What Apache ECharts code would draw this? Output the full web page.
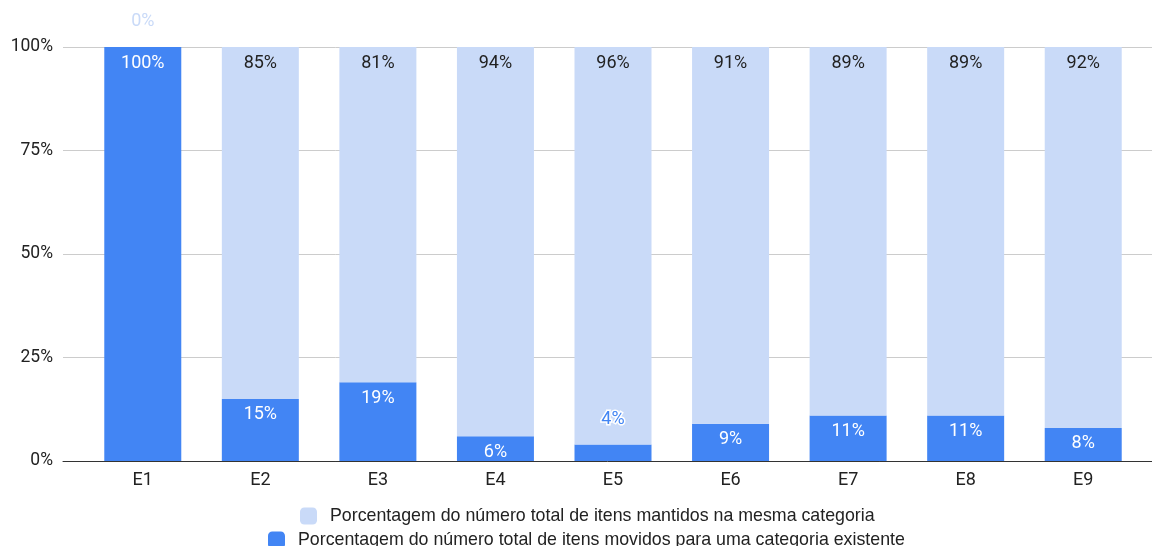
<!DOCTYPE html>
<html>
<head>
<meta charset="utf-8">
<script src="https://cdn.jsdelivr.net/npm/echarts@6/dist/echarts.min.js"></script>
<style>
  html, body { margin: 0; padding: 0; background: #fff; }
  #chart { width: 1152px; height: 546px; }
</style>
</head>
<body>
<div id="chart"></div>
<script>
// Categories and percentages per stage
const categories = ['E1', 'E2', 'E3', 'E4', 'E5', 'E6', 'E7', 'E8', 'E9'];
const movedPct = [100, 15, 19, 6, 4, 9, 11, 11, 8];
const keptPct = [0, 85, 81, 94, 96, 91, 89, 89, 92];
const yTicks = [0, 25, 50, 75, 100];

const keptName = 'Porcentagem do número total de itens mantidos na mesma categoria';
const movedName = 'Porcentagem do número total de itens movidos para uma categoria existente';

const DARK = '#4285f4';
const LIGHT = '#c9daf8';
const FONT = 'Roboto, "Noto Sans", sans-serif';
const LEGEND_FONT = '"Liberation Sans", Arial, sans-serif';

// Bars too short to hold their label get it drawn above instead
const movedData = movedPct.map(v => v < 5 ? {
  value: v,
  label: { position: 'top', distance: 16, color: DARK, textBorderColor: '#fff', textBorderWidth: 3 }
} : v);
const keptData = keptPct.map(v => v < 5 ? {
  value: v,
  label: { position: 'top', distance: 17, color: LIGHT }
} : v);

const legendBase = {
  padding: 0, icon: 'roundRect', itemWidth: 17, itemHeight: 17, itemGap: 12,
  textStyle: { fontSize: 17.8, color: '#222', fontFamily: LEGEND_FONT, padding: [0, 0, 0, 8] }
};

const chart = echarts.init(document.getElementById('chart'));
chart.setOption({
  animation: false,
  textStyle: { fontFamily: FONT },
  grid: [
    { left: 63, right: 0, top: 47, bottom: 85 },
    { left: 84, right: 10, top: 47, bottom: 85 }
  ],
  legend: [
    Object.assign({}, legendBase, { data: [keptName], left: 300, top: 507 }),
    Object.assign({}, legendBase, { data: [movedName], left: 268, top: 531 })
  ],
  xAxis: [
    {
      gridIndex: 0, type: 'value', min: 0, max: 1,
      axisLine: { show: true, lineStyle: { color: '#333', width: 1 } },
      axisTick: { show: false }, axisLabel: { show: false }, splitLine: { show: false }
    },
    {
      gridIndex: 1, type: 'category', data: categories,
      axisLine: { show: false }, axisTick: { show: false },
      axisLabel: { fontSize: 18, color: '#222', margin: 10 }
    }
  ],
  yAxis: [
    {
      gridIndex: 0, type: 'value', min: yTicks[0], max: yTicks[yTicks.length - 1], interval: 25,
      axisLine: { show: false }, axisTick: { show: false },
      axisLabel: { formatter: '{value}%', fontSize: 17.5, color: '#222', margin: 10 },
      splitLine: { lineStyle: { color: '#cccccc', width: 1 } }
    },
    {
      gridIndex: 1, type: 'value', min: 0, max: 100,
      show: false, splitLine: { show: false }
    }
  ],
  series: [
    {
      name: movedName, type: 'bar', stack: 'total', xAxisIndex: 1, yAxisIndex: 1,
      data: movedData, barWidth: 77,
      itemStyle: { color: DARK },
      label: { show: true, position: 'insideTop', distance: 7, formatter: '{c}%', fontSize: 18, color: '#fff' }
    },
    {
      name: keptName, type: 'bar', stack: 'total', xAxisIndex: 1, yAxisIndex: 1,
      data: keptData, barWidth: 77,
      itemStyle: { color: LIGHT },
      label: { show: true, position: 'insideTop', distance: 7, formatter: '{c}%', fontSize: 18, color: '#222' }
    }
  ]
});
</script>
</body>
</html>
